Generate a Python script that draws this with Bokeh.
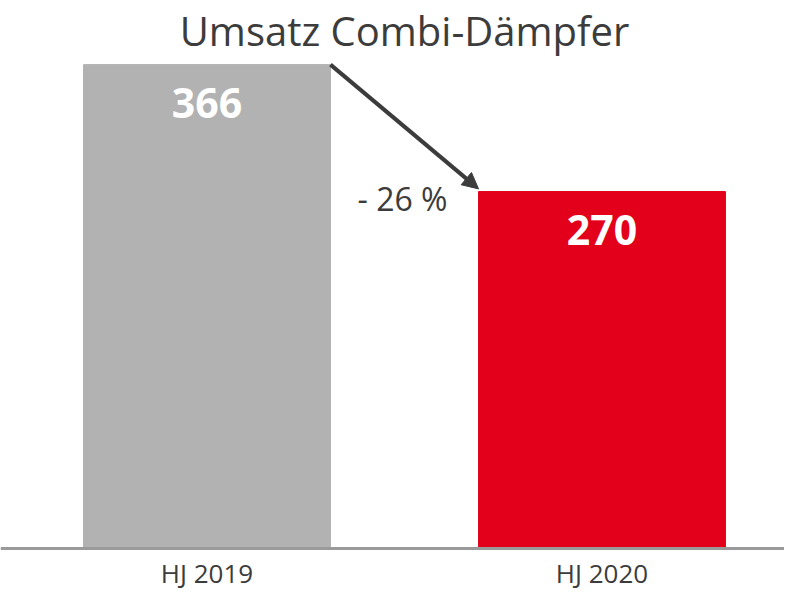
from bokeh.plotting import figure
from bokeh.models import Range1d, Arrow, NormalHead, ColumnDataSource, Span
from bokeh.core.properties import value
from bokeh.embed import file_html
from bokeh.resources import INLINE

title = "Umsatz Combi-Dämpfer"
categories = ["HJ 2019", "HJ 2020"]
revenue = [366, 270]
bar_colors = ["#b2b2b2", "#e2001a"]

FONT = "Open Sans"
DARK = "#3c3c3c"
BAR_W = 0.625

xs = list(range(len(categories)))
pct = round((revenue[1] - revenue[0]) / revenue[0] * 100)
pct_text = f"- {abs(pct)} %"

src = ColumnDataSource(dict(x=xs, top=revenue, color=bar_colors,
                            label=[str(v) for v in revenue], cat=categories,
                            zero=[0] * len(xs)))

p = figure(width=784, height=591, output_backend="svg", toolbar_location=None,
           x_range=Range1d(-0.5228, 1.462), y_range=Range1d(-32.5, 414.5),
           min_border_left=0, min_border_right=0, min_border_top=0, min_border_bottom=0)
p.xaxis.visible = False
p.yaxis.visible = False
p.xgrid.visible = False
p.ygrid.visible = False
p.outline_line_color = None

p.vbar(x="x", top="top", bottom=0, width=BAR_W, color="color", source=src)
p.add_layout(Span(location=0, dimension="width", line_color="#9a9a9a", line_width=3))

# value labels inside bars
p.text(x="x", y="top", text="label", source=src, text_align="center",
       text_baseline="middle", y_offset=38, text_color="white",
       text_font=value(FONT), text_font_style="bold", text_font_size="41px")

# category labels
p.text(x="x", y="zero", text="cat", source=src, text_align="center",
       text_baseline="bottom", y_offset=42, text_color=DARK,
       text_font=value(FONT), text_font_size="26px")

# title, centred between the bars
p.text(x=[sum(xs) / len(xs)], y=[p.y_range.end], text=[title], text_align="center",
       text_baseline="top", y_offset=2, text_color=DARK,
       text_font=value(FONT), text_font_size="40px")

p.add_layout(Arrow(end=NormalHead(size=16, fill_color=DARK, line_color=DARK, line_width=1),
                   x_start=xs[0] + BAR_W / 2, y_start=revenue[0],
                   x_end=xs[1] - BAR_W / 2, y_end=revenue[1] + 2,
                   line_color=DARK, line_width=4))
p.text(x=[xs[1] - BAR_W / 2], y=[revenue[1]], text=[pct_text], text_align="right",
       text_baseline="middle", x_offset=-31, y_offset=7, text_color=DARK,
       text_font=value(FONT), text_font_size="32px")

open("out.html", "w").write(file_html(p, INLINE))
